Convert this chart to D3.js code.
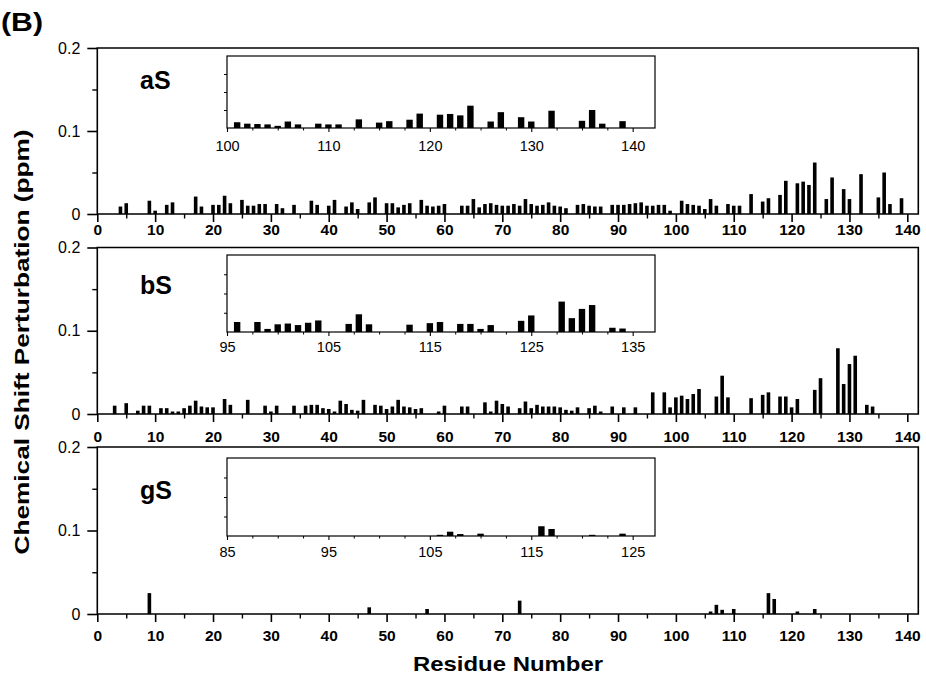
<!DOCTYPE html>
<html><head><meta charset="utf-8">
<script src="https://cdn.jsdelivr.net/npm/d3@7"></script>
<style>
body{margin:0;background:#fff}
svg text{font-family:Arial,"Liberation Sans",Helvetica,sans-serif;fill:#000}
</style>
</head><body>
<svg id="chart" width="926" height="686"></svg>
<script>
// ---------------- data ----------------
const aSResidues = [4,5,9,10,12,13,17,18,20,21,22,23,25,26,27,28,29,31,32,34,37,38,40,41,43,44,45,47,48,50,51,52,53,54,56,57,58,59,60,63,64,65,66,67,68,69,70,71,72,73,74,75,76,77,78,79,80,81,83,84,85,86,87,89,90,91,92,93,94,95,96,97,98,99,101,102,103,104,105,106,107,109,110,111,113,115,116,118,119,121,122,123,124,126,127,129,130,132,135,136,137,139];
const aSValues   = [0.009,0.013,0.016,0.004,0.011,0.014,0.021,0.009,0.011,0.011,0.022,0.013,0.017,0.010,0.010,0.012,0.012,0.012,0.007,0.011,0.016,0.011,0.010,0.017,0.009,0.014,0.006,0.014,0.020,0.013,0.013,0.008,0.011,0.013,0.017,0.010,0.009,0.010,0.012,0.010,0.010,0.018,0.008,0.012,0.013,0.011,0.010,0.010,0.012,0.010,0.018,0.012,0.010,0.011,0.014,0.010,0.009,0.007,0.011,0.012,0.010,0.009,0.009,0.011,0.011,0.011,0.012,0.013,0.014,0.010,0.010,0.011,0.011,0.004,0.016,0.012,0.011,0.010,0.006,0.018,0.010,0.012,0.010,0.010,0.024,0.015,0.019,0.023,0.040,0.037,0.039,0.035,0.062,0.018,0.044,0.030,0.018,0.048,0.020,0.050,0.012,0.019];

const bSResidues = [3,5,7,8,9,11,12,13,14,15,16,17,18,19,20,22,23,26,29,30,31,34,36,37,38,39,40,41,42,43,44,45,46,48,49,50,51,52,53,54,55,56,59,60,63,64,67,68,69,70,71,73,74,75,76,77,78,79,80,81,82,83,85,86,87,89,91,93,96,98,99,100,101,102,103,104,107,108,109,113,115,116,118,119,120,121,124,125,128,129,130,131,133,134];
const bSValues   = [0.010,0.013,0.004,0.010,0.010,0.007,0.007,0.003,0.003,0.007,0.010,0.016,0.009,0.008,0.008,0.018,0.011,0.017,0.010,0.003,0.010,0.010,0.010,0.011,0.011,0.007,0.006,0.003,0.016,0.012,0.005,0.004,0.017,0.011,0.010,0.006,0.009,0.017,0.009,0.008,0.006,0.007,0.003,0.010,0.009,0.009,0.014,0.003,0.016,0.012,0.009,0.007,0.015,0.007,0.011,0.009,0.009,0.009,0.008,0.005,0.004,0.008,0.007,0.010,0.003,0.009,0.008,0.008,0.026,0.026,0.008,0.020,0.022,0.018,0.024,0.030,0.021,0.046,0.020,0.019,0.023,0.026,0.021,0.021,0.008,0.018,0.029,0.043,0.079,0.036,0.060,0.070,0.011,0.009];

const gSResidues = [9,47,57,73,106,107,108,110,116,117,121,124];
const gSValues   = [0.025,0.008,0.006,0.016,0.003,0.011,0.005,0.006,0.025,0.018,0.003,0.006];

const panelNames = ["aS","bS","gS"];
const mainXTicks = [0,10,20,30,40,50,60,70,80,90,100,110,120,130,140];
const mainXMinor = [5,15,25,35,45,55,65,75,85,95,105,115,125,135];
const yTicks = [0,0.1,0.2];
const yMinor = [0.05,0.15];
const insetXTicks = [[100,110,120,130,140],[95,105,115,125,135],[85,95,105,115,125]];
const insetDomains = [[100,142.2],[95,137.2],[85,127.2]];

// ---------------- layout ----------------
const svg = d3.select("#chart");
const X0 = 97.3, X1 = 918.3;
const x = d3.scaleLinear().domain([0,141.9]).range([X0,X1]);

const panelTops = [48,247.5,447];
const panelBottoms = [214,414,614];
const insetBoxes = [[56,128],[255,332],[458,536]];
const labelBaselines = [89,294,499];
const xLabelPad = [1.5,9,8];
const insetLabelPad = [9,6,7];

const data = [
  d3.zip(aSResidues,aSValues),
  d3.zip(bSResidues,bSValues),
  d3.zip(gSResidues,gSValues)
];

function fmtY(d){ return d===0 ? "0" : d3.format(".1f")(d); }

data.forEach((rows,i)=>{
  const top = panelTops[i], bot = panelBottoms[i];
  const y = d3.scaleLinear().domain([0,0.2]).range([bot,top]);
  const g = svg.append("g");

  // bars
  g.selectAll("rect.bar").data(rows).enter().append("rect")
    .attr("x", d=>x(d[0])-1.8).attr("width",3.6)
    .attr("y", d=>y(d[1])).attr("height", d=>bot-y(d[1]))
    .attr("fill","#000");

  // frame
  g.append("path")
    .attr("d", `M${X0},${bot}V${top}H${X1}V${bot}H${X0}`)
    .attr("fill","none").attr("stroke","#000").attr("stroke-width",1.6);

  // x axis major
  const xa = g.append("g").attr("transform",`translate(0,${bot})`)
    .call(d3.axisBottom(x).tickValues(mainXTicks).tickSize(8).tickSizeOuter(0).tickPadding(xLabelPad[i]));
  xa.select(".domain").remove();
  xa.selectAll("line").attr("stroke-width",1.6);
  xa.selectAll("text").attr("font-size",15.5).attr("font-weight","bold").attr("font-family","Arial, 'Liberation Sans', sans-serif");
  const xm = g.append("g").attr("transform",`translate(0,${bot})`)
    .call(d3.axisBottom(x).tickValues(mainXMinor).tickSize(4.5).tickFormat(""));
  xm.select(".domain").remove();
  xm.selectAll("line").attr("stroke-width",1.4);

  // y axis
  const ya = g.append("g").attr("transform",`translate(${X0},0)`)
    .call(d3.axisLeft(y).tickValues(yTicks).tickSize(10).tickSizeOuter(0).tickPadding(7).tickFormat(fmtY));
  ya.select(".domain").remove();
  ya.selectAll("line").attr("stroke-width",1.6);
  ya.selectAll("text").attr("font-size",16).attr("font-family","Arial, 'Liberation Sans', sans-serif");
  const ym = g.append("g").attr("transform",`translate(${X0},0)`)
    .call(d3.axisLeft(y).tickValues(yMinor).tickSize(5).tickFormat(""));
  ym.select(".domain").remove();
  ym.selectAll("line").attr("stroke-width",1.4);

  // panel label
  g.append("text").attr("x",140).attr("y",labelBaselines[i])
    .attr("font-size",25).attr("font-weight","bold").text(panelNames[i]);

  // inset
  const [iTop,iBot] = insetBoxes[i];
  const ix = d3.scaleLinear().domain(insetDomains[i]).range([227,655]);
  const iy = d3.scaleLinear().domain([0,0.2]).range([iBot,iTop]);
  const inRows = rows.filter(d=>d[0]>=insetDomains[i][0] && d[0]<=insetDomains[i][1]);
  g.selectAll("rect.ibar").data(inRows).enter().append("rect")
    .attr("x", d=>ix(d[0])-3.2).attr("width",6.4)
    .attr("y", d=>iy(d[1])).attr("height", d=>iBot-iy(d[1]))
    .attr("fill","#000");
  g.append("rect").attr("x",227).attr("y",iTop).attr("width",655-227).attr("height",iBot-iTop)
    .attr("fill","none").attr("stroke","#000").attr("stroke-width",1.2);
  const minorIX = d3.range(insetDomains[i][0]+2.5, insetDomains[i][1], 2.5).filter(v=>(v-insetDomains[i][0])%10!==0);
  const ia = g.append("g").attr("transform",`translate(0,${iBot})`)
    .call(d3.axisBottom(ix).tickValues(insetXTicks[i]).tickSize(4).tickSizeOuter(0).tickPadding(insetLabelPad[i]));
  ia.select(".domain").remove();
  ia.selectAll("line").attr("stroke-width",1.1);
  ia.selectAll("text").attr("font-size",14.5).attr("font-family","Arial, 'Liberation Sans', sans-serif");
  const iam = g.append("g").attr("transform",`translate(0,${iBot})`)
    .call(d3.axisBottom(ix).tickValues(minorIX).tickSize(2.5).tickFormat(""));
  iam.select(".domain").remove();
  iam.selectAll("line").attr("stroke-width",1);
  const iya = g.append("g").attr("transform",`translate(227,0)`)
    .call(d3.axisLeft(iy).tickValues([0.05,0.1,0.15]).tickSize(3).tickFormat(""));
  iya.select(".domain").remove();
  iya.selectAll("line").attr("stroke-width",1);
});

// titles
svg.append("text").attr("x",1).attr("y",31).attr("font-size",25).attr("font-weight","bold")
  .attr("textLength",42).attr("lengthAdjust","spacingAndGlyphs").text("(B)");
svg.append("text").attr("transform","translate(29,342) rotate(-90)").attr("text-anchor","middle")
  .attr("font-size",20).attr("font-weight","bold").attr("textLength",425).attr("lengthAdjust","spacingAndGlyphs")
  .text("Chemical Shift Perturbation (ppm)");
svg.append("text").attr("x",508).attr("y",671).attr("text-anchor","middle")
  .attr("font-size",21).attr("font-weight","bold").attr("textLength",190).attr("lengthAdjust","spacingAndGlyphs")
  .text("Residue Number");
</script>
</body></html>
